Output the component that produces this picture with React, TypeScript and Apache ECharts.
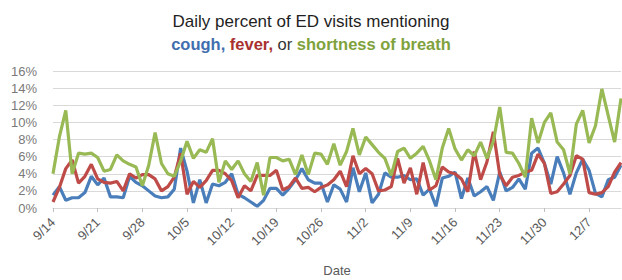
import React, { useEffect, useRef } from "react";
import * as echarts from "echarts";

const START_DATE = { month: 9, day: 14, year: 2020 };
const DAY_COUNT = 90;

const cough = [
  1.5, 2.5, 0.9, 1.2, 1.2, 1.8, 3.7, 2.7, 3.5, 1.3,
  1.3, 1.2, 3.7, 3.0, 2.6, 2.0, 1.4, 1.2, 1.3, 2.2,
  7.0, 4.3, 0.6, 3.3, 0.6, 2.8, 2.6, 3.0, 4.0, 1.6,
  1.2, 0.7, 0.2, 0.9, 2.3, 2.3, 1.5, 2.3, 3.3, 4.6,
  3.3, 2.9, 2.9, 0.7, 2.7, 2.2, 0.7, 4.7, 1.9, 4.1,
  0.6, 1.6, 4.1, 3.6, 3.6, 3.8, 3.3, 3.4, 1.5, 2.2,
  0.2, 3.5, 3.7, 4.2, 1.1, 3.5, 1.4, 1.9, 2.5, 0.9,
  4.2, 2.0, 2.4, 3.4, 2.2, 6.4, 7.0, 5.2, 2.8, 6.0,
  4.1, 1.6, 4.1, 5.7, 4.4, 1.7, 1.3, 3.3, 3.6, 5.0,
];

const fever = [
  0.7, 2.4, 4.6, 5.6, 2.9, 3.7, 5.1, 3.4, 3.0, 2.9,
  3.1, 2.0, 4.0, 3.5, 3.9, 3.9, 3.4, 2.0, 2.5, 3.6,
  6.4, 1.6, 3.1, 2.4, 3.2, 4.4, 4.4, 4.0, 3.2, 1.2,
  2.6, 2.0, 3.8, 3.8, 3.8, 4.4, 2.1, 2.5, 3.5, 2.3,
  2.4, 1.9, 2.4, 2.7, 3.3, 4.3, 2.5, 6.1, 4.0, 4.6,
  4.0, 2.0, 2.1, 2.5, 5.8, 2.9, 4.7, 1.6, 5.3, 2.1,
  2.6, 4.8, 4.2, 4.0, 3.4, 1.9, 6.6, 3.3, 5.4, 8.9,
  3.9, 2.6, 3.6, 3.8, 4.2, 4.4, 6.3, 5.2, 1.7, 1.9,
  2.8, 3.8, 6.1, 5.7, 1.8, 1.6, 1.8, 2.5, 4.2, 5.3,
];

const breath = [
  4.0, 8.3, 11.4, 4.0, 6.4, 6.3, 6.4, 5.9, 4.3, 4.5,
  6.2, 5.5, 5.1, 4.8, 2.6, 5.0, 8.8, 5.2, 4.0, 3.7,
  5.5, 7.8, 5.8, 6.8, 6.5, 8.1, 3.0, 5.5, 4.5, 5.5,
  4.0, 3.1, 5.3, 1.5, 5.9, 5.9, 5.5, 5.7, 3.9, 6.2,
  3.9, 6.4, 6.3, 5.1, 7.5, 5.0, 6.6, 9.3, 6.2, 8.3,
  7.4, 6.5, 5.8, 3.8, 6.6, 7.0, 5.8, 6.4, 7.2, 5.5,
  3.3, 7.0, 9.3, 6.9, 5.6, 6.8, 6.1, 7.7, 5.8, 7.8,
  11.8, 6.5, 6.4, 5.2, 3.6, 10.5, 7.6, 10.0, 11.1, 7.7,
  6.8, 4.0, 9.8, 11.4, 7.6, 9.6, 13.9, 10.8, 7.7, 12.8,
];

const yTicks = [0, 2, 4, 6, 8, 10, 12, 14, 16];

function buildDates(): string[] {
  const out: string[] = [];
  const d0 = new Date(START_DATE.year, START_DATE.month - 1, START_DATE.day);
  for (let i = 0; i < DAY_COUNT; i++) {
    const d = new Date(d0.getFullYear(), d0.getMonth(), d0.getDate() + i);
    out.push(`${d.getMonth() + 1}/${d.getDate()}`);
  }
  return out;
}

const dates = buildDates();

const BLUE = "#4a7ebb";
const RED = "#be4b48";
const GREEN = "#98b954";
const FONT = "'Liberation Sans', Arial, sans-serif";

export default function App() {
  const ref = useRef<HTMLDivElement>(null);
  useEffect(() => {
    if (!ref.current) return;
    const chart = echarts.init(ref.current, undefined, { renderer: "svg" });
    chart.setOption({
      animation: false,
      backgroundColor: "#ffffff",
      title: [
        {
          text: "Daily percent of ED visits mentioning",
          left: "center",
          top: 8,
          textStyle: { fontFamily: FONT, fontSize: 17, fontWeight: "normal", color: "#1f1f1f" },
        },
        {
          text: "{b|cough,} {r|fever,} {o|or} {g|shortness of breath}",
          left: "center",
          top: 30,
          textStyle: {
            fontFamily: FONT,
            fontSize: 16.5,
            rich: {
              b: { color: "#3f6fae", fontWeight: "bold", fontFamily: FONT, fontSize: 16.5 },
              r: { color: "#a8312f", fontWeight: "bold", fontFamily: FONT, fontSize: 16.5 },
              o: { color: "#333333", fontWeight: "normal", fontFamily: FONT, fontSize: 16.5 },
              g: { color: "#7fa23c", fontWeight: "bold", fontFamily: FONT, fontSize: 16.5 },
            },
          },
        },
      ],
      grid: { left: 53, right: 1, top: 71, bottom: 72, containLabel: false },
      xAxis: {
        type: "category",
        data: dates,
        boundaryGap: false,
        name: "Date",
        nameLocation: "middle",
        nameGap: 56,
        nameTextStyle: { fontFamily: FONT, fontSize: 13, color: "#595959" },
        axisLine: { lineStyle: { color: "#d9d9d9", width: 1 } },
        axisTick: { show: true, interval: 6, length: 4, lineStyle: { color: "#bfbfbf" } },
        axisLabel: {
          interval: 6,
          rotate: 45,
          margin: 12,
          fontFamily: FONT,
          fontSize: 13,
          color: "#595959",
        },
        splitLine: { show: false },
      },
      yAxis: {
        type: "value",
        min: yTicks[0],
        max: yTicks[yTicks.length - 1],
        interval: 2,
        axisLine: { show: false },
        axisTick: { show: false },
        axisLabel: {
          margin: 16,
          fontFamily: FONT,
          fontSize: 13,
          color: "#7a7a7a",
          formatter: (v: number) => `${v}%`,
        },
        splitLine: { lineStyle: { color: "#d9d9d9", width: 1 } },
      },
      series: [
        {
          name: "cough",
          type: "line",
          data: cough,
          symbol: "none",
          lineStyle: { color: BLUE, width: 3.2 },
          itemStyle: { color: BLUE },
        },
        {
          name: "fever",
          type: "line",
          data: fever,
          symbol: "none",
          lineStyle: { color: RED, width: 3.2 },
          itemStyle: { color: RED },
        },
        {
          name: "shortness of breath",
          type: "line",
          data: breath,
          symbol: "none",
          lineStyle: { color: GREEN, width: 3.2 },
          itemStyle: { color: GREEN },
        },
      ],
    });
    return () => chart.dispose();
  }, []);
  return (
    <div
      ref={ref}
      style={{ position: "absolute", left: 0, top: 0, width: 622, height: 280 }}
    />
  );
}
